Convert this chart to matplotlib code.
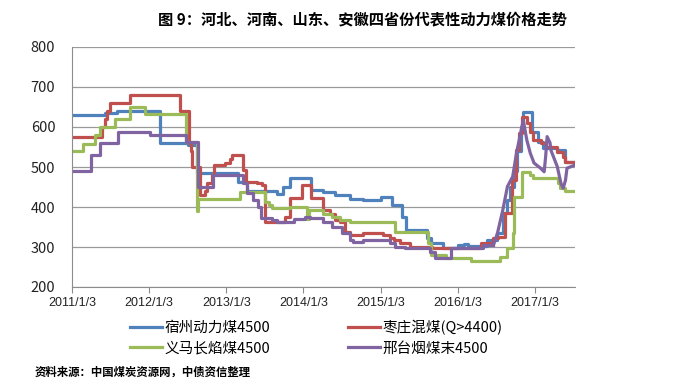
import matplotlib
matplotlib.use('Agg')
import matplotlib.pyplot as plt
import pandas as pd

plt.rcParams['font.family'] = ['Noto Sans CJK SC', 'DejaVu Sans']

# ---------------------------------------------------------------------------
# data (step breakpoints)
# ---------------------------------------------------------------------------
suzhou_dates = ['2011-01-03', '2011-06-08', '2011-08-03', '2012-02-23', '2012-07-04',
                '2012-08-16', '2013-02-27', '2013-04-09', '2013-08-30', '2013-09-28',
                '2013-10-31', '2014-02-08', '2014-04-06', '2014-06-01', '2014-08-11',
                '2014-10-12', '2015-01-03', '2015-02-28', '2015-04-13', '2015-05-05',
                '2015-08-12', '2015-08-30', '2015-10-28', '2016-01-03', '2016-02-01',
                '2016-02-20', '2016-05-21', '2016-07-06', '2016-08-04', '2016-08-22',
                '2016-09-09', '2016-09-27', '2016-10-08', '2016-10-29', '2016-11-09',
                '2016-12-19', '2017-01-17', '2017-02-09', '2017-04-19', '2017-05-24',
                '2017-07-12']
suzhou_vals = [630, 635, 640, 560, 555,
               485, 462, 440, 432, 450,
               472, 442, 438, 430, 420,
               418, 425, 405, 376, 342,
               322, 310, 298, 305, 308,
               303, 318, 335, 385, 417,
               450, 490, 540, 600, 638,
               588, 563, 547, 543, 513,
               513]

zaozhuang_dates = ['2011-01-03', '2011-05-24', '2011-06-08', '2011-06-17', '2011-06-30',
                   '2011-10-07', '2012-05-27', '2012-07-11', '2012-07-18', '2012-07-22',
                   '2012-08-30', '2012-09-23', '2012-10-01', '2012-10-26', '2012-11-06',
                   '2012-12-28', '2013-01-22', '2013-01-30', '2013-03-22', '2013-04-05',
                   '2013-05-27', '2013-06-19', '2013-07-05', '2013-10-06', '2013-10-31',
                   '2013-12-25', '2014-02-08', '2014-04-06', '2014-05-08', '2014-06-01',
                   '2014-06-25', '2014-07-20', '2014-08-11', '2014-10-12', '2015-01-17',
                   '2015-02-16', '2015-03-07', '2015-04-06', '2015-05-23', '2015-09-03',
                   '2016-04-22', '2016-06-21', '2016-07-10', '2016-08-15', '2016-09-16',
                   '2016-10-04', '2016-10-20', '2016-11-05', '2016-11-26', '2016-12-12',
                   '2016-12-23', '2017-01-30', '2017-02-23', '2017-04-19', '2017-05-17',
                   '2017-05-28', '2017-07-12']
zaozhuang_vals = [575, 600, 620, 640, 660,
                  680, 640, 560, 540, 500,
                  430, 440, 460, 480, 505,
                  510, 520, 530, 492, 463,
                  460, 455, 363, 376, 422,
                  455, 422, 392, 383, 367,
                  363, 338, 330, 335, 330,
                  322, 317, 310, 301, 297,
                  310, 322, 326, 385, 467,
                  542, 585, 626, 610, 588,
                  568, 560, 551, 538, 526,
                  513, 513]

yima_dates = ['2011-01-03', '2011-02-23', '2011-04-20', '2011-05-14', '2011-07-24',
              '2011-10-03', '2011-12-13', '2012-06-28', '2012-08-16', '2012-08-23',
              '2013-03-07', '2013-07-05', '2013-07-26', '2013-08-06', '2013-10-31',
              '2014-01-21', '2014-01-28', '2014-04-06', '2014-05-18', '2014-06-25',
              '2014-08-11', '2015-03-14', '2015-08-16', '2015-08-30', '2015-11-11',
              '2016-03-06', '2016-07-24', '2016-08-22', '2016-09-20', '2016-09-27',
              '2016-11-05', '2016-12-12', '2016-12-23', '2017-04-23', '2017-04-30',
              '2017-05-24', '2017-07-12']
yima_vals = [540, 558, 580, 600, 620,
             650, 632, 563, 390, 420,
             438, 413, 405, 397, 400,
             370, 392, 383, 376, 367,
             363, 338, 310, 280, 272,
             265, 276, 297, 335, 426,
             488, 480, 472, 460, 447,
             441, 441]

xingtai_dates = ['2011-01-03', '2011-04-05', '2011-05-14', '2011-08-08', '2012-01-08',
                 '2012-06-28', '2012-08-20', '2012-10-30', '2013-03-22', '2013-04-09',
                 '2013-05-08', '2013-05-31', '2013-06-15', '2013-08-06', '2013-08-30',
                 '2013-11-17', '2014-01-10', '2014-02-04', '2014-04-06', '2014-05-18',
                 '2014-07-05', '2014-08-11', '2014-08-25', '2014-10-12', '2015-02-16',
                 '2015-03-14', '2015-05-01', '2015-08-23', '2015-09-17', '2015-12-01',
                 '2016-05-03', '2016-06-21']
xingtai_vals = [490, 530, 560, 588, 580,
                563, 451, 480, 460, 435,
                417, 401, 372, 367, 363,
                370, 376, 372, 363, 351,
                335, 317, 313, 317, 310,
                301, 297, 288, 272, 297,
                305, 305]
# smooth tail of the 邢台 series
xingtai_tail_dates = ['2016-06-21', '2016-07-10', '2016-08-04', '2016-08-26', '2016-09-20',
                      '2016-10-08', '2016-11-09', '2016-11-26', '2016-12-12', '2016-12-30',
                      '2017-01-30', '2017-02-16', '2017-02-23', '2017-03-02', '2017-03-16',
                      '2017-03-20', '2017-04-19', '2017-05-07', '2017-05-17', '2017-05-28',
                      '2017-06-04', '2017-07-12']
xingtai_tail_vals = [305, 335, 392, 451, 476,
                     535, 617, 567, 535, 510,
                     497, 488, 526, 576, 560,
                     542, 501, 458, 447, 467,
                     497, 505]

labels = ['宿州动力煤4500', '枣庄混煤(Q>4400)', '义马长焰煤4500', '邢台烟煤末4500']
colors = ['#4F81BD', '#C0504D', '#9BBB59', '#8064A2']
tick_dates = ['2011-01-03', '2012-01-03', '2013-01-03', '2014-01-03',
              '2015-01-03', '2016-01-03', '2017-01-03']
tick_labels = ['2011/1/3', '2012/1/3', '2013/1/3', '2014/1/3',
               '2015/1/3', '2016/1/3', '2017/1/3']

# ---------------------------------------------------------------------------
fig = plt.figure(figsize=(6.95, 3.85), dpi=100)
ax = fig.add_axes([72 / 695, 1 - 287 / 385, 503 / 695, 240 / 385])

lw = 2.3
h_blue, = ax.plot(pd.to_datetime(suzhou_dates), suzhou_vals, drawstyle='steps-post',
                  color=colors[0], lw=lw, label=labels[0])
h_red, = ax.plot(pd.to_datetime(zaozhuang_dates), zaozhuang_vals, drawstyle='steps-post',
                 color=colors[1], lw=lw, label=labels[1])
h_green, = ax.plot(pd.to_datetime(yima_dates), yima_vals, drawstyle='steps-post',
                   color=colors[2], lw=lw, label=labels[2])
h_purple, = ax.plot(pd.to_datetime(xingtai_dates), xingtai_vals, drawstyle='steps-post',
                    color=colors[3], lw=lw, label=labels[3])
ax.plot(pd.to_datetime(xingtai_tail_dates), xingtai_tail_vals, color=colors[3], lw=lw)

ax.set_ylim(200, 800)
ax.set_yticks(range(200, 801, 100))
ax.set_xlim(pd.Timestamp('2011-01-03'), pd.Timestamp('2017-07-12'))
ax.set_xticks(pd.to_datetime(tick_dates))
ax.set_xticklabels(tick_labels)

ax.grid(axis='y', color='#9a9a9a', lw=0.9)
ax.set_axisbelow(True)
for s in ['top', 'right']:
    ax.spines[s].set_visible(False)
ax.spines['left'].set_color('#8c8c8c')
ax.spines['bottom'].set_color('#8c8c8c')
ax.tick_params(axis='y', length=0, labelsize=10.5, pad=12, colors='#222222')
ax.tick_params(axis='x', length=4, color='#8c8c8c', labelsize=9, pad=3, labelcolor='#222222')
for t in ax.get_xticklabels():
    t.set_family(['Liberation Sans Narrow', 'Liberation Sans', 'DejaVu Sans'])

fig.text(363 / 695, 1 - 19 / 385, '图 9：河北、河南、山东、安徽四省份代表性动力煤价格走势',
         ha='center', va='center', fontsize=11, fontweight='bold')

fig.legend([h_blue, h_green, h_red, h_purple],
           [labels[0], labels[2], labels[1], labels[3]],
           ncol=2, loc='upper left', bbox_to_anchor=(124 / 695, 1 - 314 / 385),
           frameon=False, fontsize=10.5, handlelength=2.2, handletextpad=0.2,
           columnspacing=5.3, labelspacing=0.45, borderaxespad=0)

fig.text(35 / 695, 1 - 372 / 385, '资料来源：中国煤炭资源网，中债资信整理',
         ha='left', va='center', fontsize=8.2, fontweight='bold')

fig.savefig('out.png', dpi=100)
